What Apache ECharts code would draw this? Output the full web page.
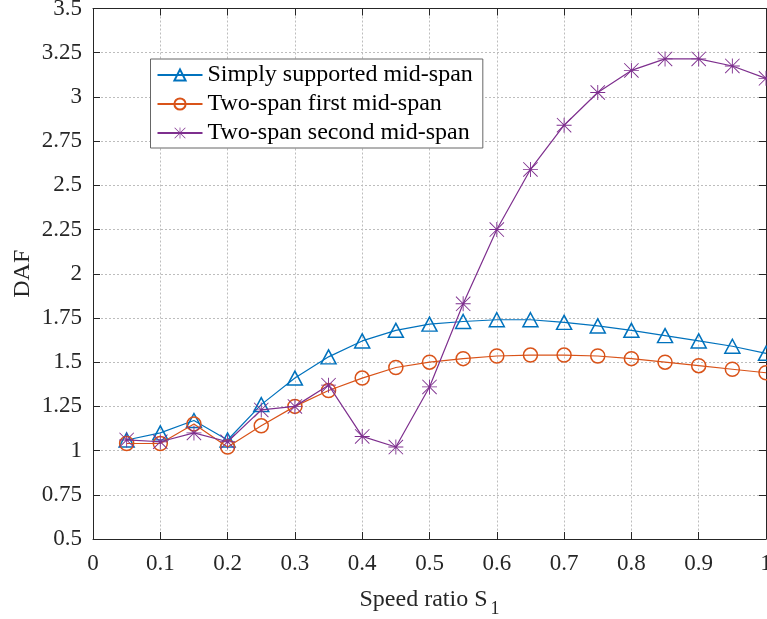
<!DOCTYPE html>
<html>
<head>
<meta charset="utf-8">
<script src="https://cdn.jsdelivr.net/npm/echarts@6/dist/echarts.min.js"></script>
<style>
  html, body { margin: 0; padding: 0; background: #fff; }
  #chart { width: 767px; height: 619px; }
</style>
</head>
<body>
<div id="chart"></div>
<script>
// Speed ratios S1
var speedRatio = [0.05, 0.1, 0.15, 0.2, 0.25, 0.3, 0.35, 0.4, 0.45, 0.5,
                  0.55, 0.6, 0.65, 0.7, 0.75, 0.8, 0.85, 0.9, 0.95, 1.0];

// Dynamic amplification factor at each measuring point
var simplySupported = [1.06, 1.10, 1.17, 1.06, 1.26, 1.41, 1.53, 1.62, 1.68, 1.715,
                       1.73, 1.74, 1.74, 1.725, 1.705, 1.68, 1.65, 1.62, 1.59, 1.55];
var twoSpanFirst = [1.04, 1.04, 1.15, 1.02, 1.14, 1.25, 1.34, 1.41, 1.47, 1.50,
                    1.52, 1.535, 1.54, 1.54, 1.535, 1.52, 1.50, 1.48, 1.46, 1.44];
var twoSpanSecond = [1.06, 1.05, 1.10, 1.05, 1.23, 1.25, 1.37, 1.08, 1.02, 1.36,
                     1.83, 2.25, 2.59, 2.84, 3.025, 3.15, 3.215, 3.215, 3.175, 3.105];

var seriesNames = ['Simply supported mid-span', 'Two-span first mid-span', 'Two-span second mid-span'];

var BLUE = '#0072BD', ORANGE = '#D95319', PURPLE = '#7E2F8E';
var FONT = '"Liberation Serif", "Times New Roman", serif';
var INK = '#262626';

// eight-armed asterisk marker
var ASTERISK = 'path://M9.4 0 L10.6 0 L10.6 20 L9.4 20 Z ' +
               'M0 9.4 L20 9.4 L20 10.6 L0 10.6 Z ' +
               'M0 0.85 L0.85 0 L20 19.15 L19.15 20 Z ' +
               'M19.15 0 L20 0.85 L0.85 20 L0 19.15 Z';

function pairs(ys) {
  return speedRatio.map(function (x, i) { return [x, ys[i]]; });
}

function fmt(v) {
  return String(Math.round(v * 100) / 100);
}

var chart = echarts.init(document.getElementById('chart'), null, { renderer: 'canvas' });

var tickStyle = { show: true, inside: true, length: 7, lineStyle: { color: INK, width: 1 } };
var lineAxis = { show: true, onZero: false, lineStyle: { color: INK, width: 1 } };
var gridLine = { show: true, lineStyle: { color: '#bdbdbd', type: [2, 2], width: 1 } };

chart.setOption({
  animation: false,
  backgroundColor: '#fff',
  grid: { left: 93, right: 1, top: 8.5, bottom: 80, containLabel: false, outerBoundsMode: 'none' },
  legend: {
    orient: 'vertical',
    left: 150.5,
    top: 59,
    padding: [4, 10, 3, 6],
    itemGap: 5,
    itemWidth: 45,
    itemHeight: 14,
    borderColor: '#666',
    borderWidth: 1,
    backgroundColor: '#fff',
    textStyle: { fontFamily: FONT, fontSize: 24, color: '#000' },
    data: seriesNames
  },
  xAxis: [{
    type: 'value', min: 0, max: 1, interval: 0.1,
    axisLine: lineAxis, axisTick: tickStyle, splitLine: gridLine,
    axisLabel: { fontFamily: FONT, fontSize: 23, color: INK, margin: 13, formatter: fmt },
    name: '{n|Speed ratio S}{s|1}',
    nameLocation: 'middle', nameGap: 43, nameMoveOverlap: false,
    nameTextStyle: {
      rich: {
        n: { fontFamily: FONT, fontSize: 24, color: INK },
        s: { fontFamily: FONT, fontSize: 18, color: INK, padding: [18, 0, 0, 3] }
      }
    }
  }, {
    type: 'value', position: 'top', min: 0, max: 1, interval: 0.1,
    axisLine: lineAxis, axisTick: tickStyle, splitLine: { show: false },
    axisLabel: { show: false }
  }],
  yAxis: [{
    type: 'value', min: 0.5, max: 3.5, interval: 0.25,
    axisLine: lineAxis, axisTick: tickStyle, splitLine: gridLine,
    axisLabel: { fontFamily: FONT, fontSize: 23, color: INK, margin: 11, formatter: fmt },
    name: 'DAF', nameLocation: 'middle', nameGap: 58, nameRotate: 90, nameMoveOverlap: false,
    nameTextStyle: { fontFamily: FONT, fontSize: 24, color: INK }
  }, {
    type: 'value', position: 'right', min: 0.5, max: 3.5, interval: 0.25,
    axisLine: lineAxis, axisTick: tickStyle, splitLine: { show: false },
    axisLabel: { show: false }
  }],
  series: [{
    name: seriesNames[0], type: 'line', data: pairs(simplySupported),
    color: BLUE,
    symbol: 'triangle', symbolSize: [15, 14],
    lineStyle: { color: BLUE, width: 1.2 },
    itemStyle: { color: 'rgba(255,255,255,0)', borderColor: BLUE, borderWidth: 1.5 },
    z: 3
  }, {
    name: seriesNames[1], type: 'line', data: pairs(twoSpanFirst),
    color: ORANGE,
    symbol: 'circle', symbolSize: 14,
    lineStyle: { color: ORANGE, width: 1.2 },
    itemStyle: { color: 'rgba(255,255,255,0)', borderColor: ORANGE, borderWidth: 1.5 },
    z: 4
  }, {
    name: seriesNames[2], type: 'line', data: pairs(twoSpanSecond),
    color: PURPLE,
    symbol: ASTERISK, symbolSize: 15,
    lineStyle: { color: PURPLE, width: 1.2 },
    itemStyle: { color: PURPLE, borderWidth: 0 },
    z: 5
  }]
});
</script>
</body>
</html>
